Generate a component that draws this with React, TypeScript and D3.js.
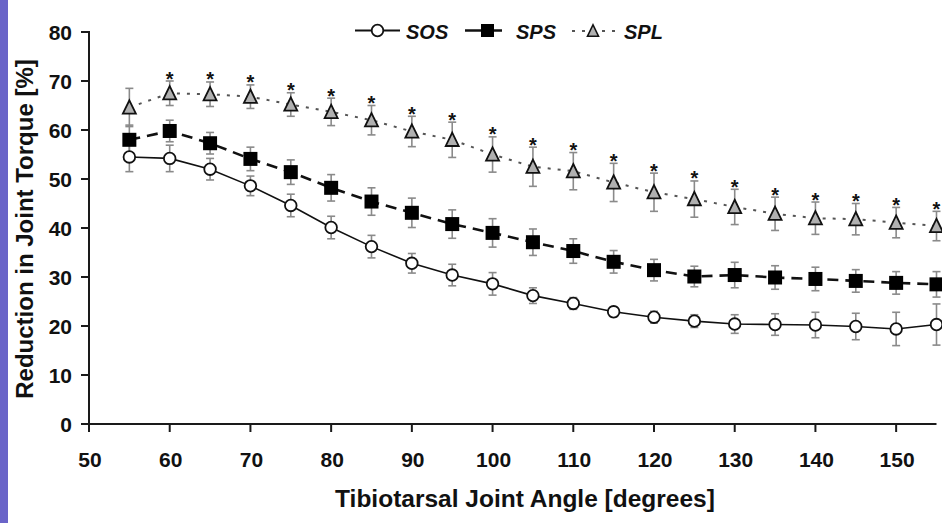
import React from "react";
import * as d3 from "d3";

const angles = [55, 60, 65, 70, 75, 80, 85, 90, 95, 100, 105, 110, 115, 120, 125, 130, 135, 140, 145, 150, 155];
const sosMean = [54.5, 54.2, 52.0, 48.6, 44.6, 40.1, 36.2, 32.8, 30.4, 28.6, 26.2, 24.6, 22.9, 21.8, 21.0, 20.4, 20.3, 20.2, 19.9, 19.4, 20.3];
const sosErr = [3.0, 2.7, 2.2, 2.0, 2.3, 2.3, 2.3, 2.0, 2.2, 2.3, 1.6, 1.2, 1.0, 1.2, 1.3, 1.9, 2.2, 2.6, 2.7, 3.4, 4.2];
const spsMean = [58.0, 59.8, 57.3, 54.1, 51.4, 48.2, 45.4, 43.1, 40.8, 39.0, 37.1, 35.3, 33.1, 31.4, 30.1, 30.4, 29.9, 29.6, 29.2, 28.8, 28.5];
const spsErr = [3.0, 2.2, 2.2, 2.4, 2.5, 2.7, 2.8, 3.0, 2.9, 2.9, 2.7, 2.5, 2.3, 2.2, 2.1, 2.6, 2.4, 2.4, 2.3, 2.3, 2.6];
const splMean = [64.6, 67.5, 67.3, 66.8, 65.2, 63.7, 62.0, 59.7, 58.0, 55.0, 52.5, 51.6, 49.3, 47.3, 45.9, 44.3, 42.9, 42.0, 41.8, 41.1, 40.4];
const splErr = [3.9, 2.5, 2.5, 2.4, 2.4, 2.8, 3.0, 3.1, 3.6, 3.6, 4.0, 3.8, 3.9, 3.9, 3.7, 3.6, 3.4, 3.3, 3.2, 3.1, 3.0];
const splStar = [false, true, true, true, true, true, true, true, true, true, true, true, true, true, true, true, true, true, true, true, true];
const xTicks = [50, 60, 70, 80, 90, 100, 110, 120, 130, 140, 150];
const yTicks = [0, 10, 20, 30, 40, 50, 60, 70, 80];

const W = 942;
const H = 523;
const x = d3.scaleLinear().domain([50, 155]).range([89, 936.5]);
const y = d3.scaleLinear().domain([0, 80]).range([424, 32]);
const FONT = "'Liberation Sans', Arial, Helvetica, sans-serif";

const lineGen = d3.line<[number, number]>().x((d) => x(d[0])).y((d) => y(d[1]));

function ErrorBars({ means, errs }: { means: number[]; errs: number[] }) {
  return (
    <g stroke="#8a8a8a" strokeWidth={1.6} fill="none">
      {angles.map((a, i) => {
        const cx = x(a);
        const t = y(means[i] + errs[i]);
        const b = y(means[i] - errs[i]);
        return (
          <g key={i}>
            <line x1={cx} x2={cx} y1={t} y2={b} />
            <line x1={cx - 4} x2={cx + 4} y1={t} y2={t} />
            <line x1={cx - 4} x2={cx + 4} y1={b} y2={b} />
          </g>
        );
      })}
    </g>
  );
}

function tri(cx: number, cy: number, s: number) {
  const h = s * 0.95;
  return `M${cx},${cy - h / 2 - 1}L${cx + s / 2},${cy + h / 2}L${cx - s / 2},${cy + h / 2}Z`;
}

export default function App() {
  const sosPts = angles.map((a, i) => [a, sosMean[i]] as [number, number]);
  const spsPts = angles.map((a, i) => [a, spsMean[i]] as [number, number]);
  const splPts = angles.map((a, i) => [a, splMean[i]] as [number, number]);

  return (
    <svg
      width={W}
      height={H}
      style={{ position: "absolute", left: 0, top: 0, background: "#fff" }}
      fontFamily={FONT}
    >
      <rect x={0} y={0} width={W} height={H} fill="#fff" />
      <rect x={0} y={0} width={8} height={H} fill="#6a64c8" />

      {/* axes */}
      <g stroke="#1a1a1a" strokeWidth={2}>
        <line x1={89} x2={89} y1={y(80) - 1} y2={424} />
        <line x1={89} x2={936.5} y1={424} y2={424} />
        {yTicks.map((t) => (
          <line key={t} x1={81} x2={89} y1={y(t)} y2={y(t)} />
        ))}
        {xTicks.map((t) => (
          <line key={t} x1={x(t)} x2={x(t)} y1={424} y2={432} />
        ))}
      </g>
      <g fontSize={21} fontWeight="bold" fill="#111">
        {yTicks.map((t) => (
          <text key={t} x={72} y={y(t) + 7.5} textAnchor="end">
            {t}
          </text>
        ))}
        {xTicks.map((t) => (
          <text key={t} x={x(t) + 1} y={467} textAnchor="middle">
            {t}
          </text>
        ))}
      </g>
      <text x={525} y={507} fontSize={24.5} fontWeight="bold" textAnchor="middle" fill="#111">
        Tibiotarsal Joint Angle [degrees]
      </text>
      <text
        transform={`translate(33,229) rotate(-90)`}
        fontSize={24}
        fontWeight="bold"
        textAnchor="middle"
        fill="#111"
      >
        Reduction in Joint Torque [%]
      </text>

      {/* error bars */}
      <ErrorBars means={splMean} errs={splErr} />
      <ErrorBars means={spsMean} errs={spsErr} />
      <ErrorBars means={sosMean} errs={sosErr} />

      {/* lines */}
      <path d={lineGen(splPts) || ""} fill="none" stroke="#555" strokeWidth={2} strokeDasharray="3,7" />
      <path d={lineGen(spsPts) || ""} fill="none" stroke="#111" strokeWidth={2.6} strokeDasharray="11,7" />
      <path d={lineGen(sosPts) || ""} fill="none" stroke="#111" strokeWidth={1.6} />

      {/* markers */}
      {splPts.map((p, i) => (
        <path key={i} d={tri(x(p[0]), y(p[1]), 13)} fill="#b0b0b0" stroke="#111" strokeWidth={1.8} />
      ))}
      {spsPts.map((p, i) => (
        <rect key={i} x={x(p[0]) - 7} y={y(p[1]) - 7} width={14} height={14} fill="#000" />
      ))}
      {sosPts.map((p, i) => (
        <circle key={i} cx={x(p[0])} cy={y(p[1])} r={5.8} fill="#fff" stroke="#111" strokeWidth={1.8} />
      ))}

      {/* stars */}
      <g fontSize={20} fontWeight="bold" fill="#111" textAnchor="middle">
        {angles.map((a, i) =>
          splStar[i] ? (
            <text key={i} x={x(a)} y={y(splMean[i] + splErr[i]) + 4.5}>
              *
            </text>
          ) : null
        )}
      </g>

      {/* legend */}
      <g>
        <line x1={355} x2={400} y1={30.5} y2={30.5} stroke="#111" strokeWidth={1.8} />
        <circle cx={377.5} cy={30.5} r={5.8} fill="#fff" stroke="#111" strokeWidth={1.8} />
        <text x={406} y={38.5} fontSize={20} fontWeight="bold" fontStyle="italic" fill="#111">
          SOS
        </text>
        <line x1={465} x2={502} y1={30.5} y2={30.5} stroke="#111" strokeWidth={2.6} />
        <rect x={481} y={24} width={13} height={13} fill="#000" />
        <text x={516} y={38.5} fontSize={20} fontWeight="bold" fontStyle="italic" fill="#111">
          SPS
        </text>
        <line x1={572} x2={617} y1={31} y2={31} stroke="#555" strokeWidth={2} strokeDasharray="3,7" />
        <path d={tri(593, 31, 11)} fill="#b0b0b0" stroke="#111" strokeWidth={1.6} />
        <text x={624} y={38.5} fontSize={20} fontWeight="bold" fontStyle="italic" fill="#111">
          SPL
        </text>
      </g>
    </svg>
  );
}
